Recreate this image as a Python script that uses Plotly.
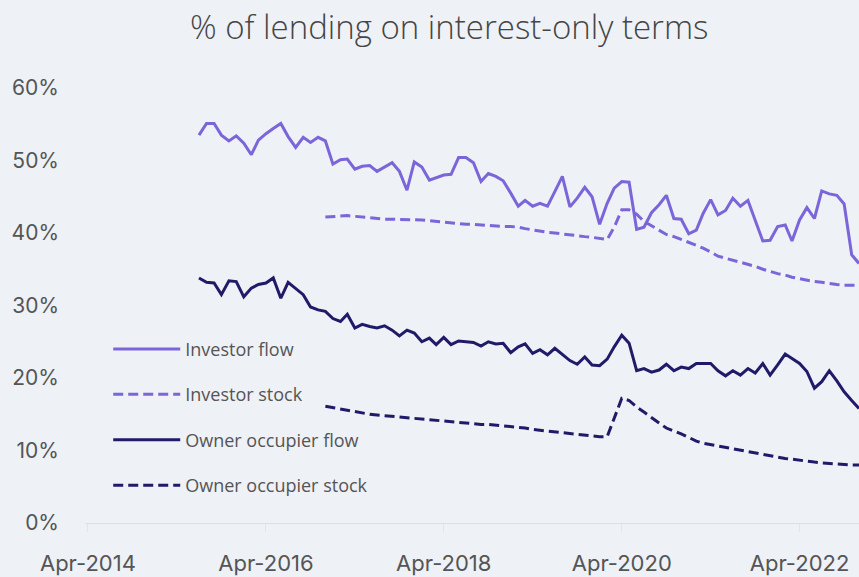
import pandas as pd
import plotly.graph_objects as go

# Monthly series, % of new / outstanding lending on interest-only terms
flow_start = "2015-07-01"
stock_start = "2016-12-01"

investor_flow = [
    53.5, 55.1, 55.1, 53.5, 52.7, 53.4, 52.4, 50.8, 52.8, 53.7, 54.4, 55.1,
    53.3, 51.8, 53.2, 52.5, 53.2, 52.7, 49.5, 50.1, 50.2, 48.8, 49.2, 49.3,
    48.5, 49.1, 49.7, 48.5, 45.9, 49.8, 49.1, 47.3, 47.6, 48.0, 48.1, 50.4,
    50.4, 49.7, 47.1, 48.2, 47.8, 47.2, 45.5, 43.7, 44.5, 43.7, 44.1, 43.7,
    45.7, 47.8, 43.6, 44.8, 46.3, 45.0, 41.2, 44.1, 46.2, 47.1, 47.0, 40.5,
    40.8, 42.8, 43.9, 45.2, 42.0, 41.9, 39.9, 40.4, 42.7, 44.6, 42.5, 43.1,
    44.8, 43.7, 44.5, 41.8, 38.9, 39.0, 40.9, 41.1, 38.9, 41.8, 43.5, 42.0,
    45.8, 45.4, 45.2, 44.0, 37.0, 35.8,
]

owner_occupier_flow = [
    33.8, 33.2, 33.1, 31.5, 33.4, 33.3, 31.2, 32.4, 32.9, 33.1, 33.8, 31.0,
    33.2, 32.3, 31.5, 29.8, 29.4, 29.2, 28.2, 27.8, 28.8, 26.9, 27.4, 27.1,
    26.9, 27.2, 26.6, 25.8, 26.6, 26.2, 25.0, 25.5, 24.6, 25.6, 24.6, 25.1,
    25.0, 24.9, 24.4, 25.0, 24.7, 24.8, 23.5, 24.3, 24.7, 23.4, 23.9, 23.2,
    24.1, 23.2, 22.4, 21.9, 22.9, 21.8, 21.7, 22.6, 24.3, 25.9, 24.8, 21.0,
    21.3, 20.8, 21.1, 21.9, 21.0, 21.5, 21.3, 22.0, 22.0, 22.0, 21.0, 20.3,
    21.0, 20.4, 21.3, 20.7, 22.0, 20.4, 21.8, 23.3, 22.7, 22.0, 20.9, 18.6,
    19.5, 21.0, 19.6, 18.1, 16.9, 15.8,
]

investor_stock = [
    42.2, 42.3, 42.4, 42.4, 42.3, 42.2, 42.1, 42.0, 41.9, 41.9, 41.9, 41.9,
    41.9, 41.8, 41.7, 41.6, 41.5, 41.4, 41.3, 41.2, 41.2, 41.1, 41.0, 41.0,
    40.9, 40.9, 40.8, 40.6, 40.4, 40.2, 40.1, 40.0, 39.9, 39.8, 39.7, 39.5,
    39.4, 39.2, 39.1, 40.8, 43.2, 43.2, 42.6, 41.6, 41.0, 40.3, 39.8, 39.5,
    39.1, 38.8, 38.3, 37.9, 37.4, 36.8, 36.5, 36.2, 35.9, 35.7, 35.4, 35.0,
    34.7, 34.4, 34.2, 33.9, 33.7, 33.5, 33.3, 33.2, 33.0, 32.9, 32.8, 32.8,
    32.8,
]

owner_occupier_stock = [
    16.1, 15.9, 15.8, 15.6, 15.4, 15.2, 15.0, 14.9, 14.8, 14.7, 14.6, 14.5,
    14.4, 14.3, 14.2, 14.1, 14.0, 14.0, 13.9, 13.8, 13.7, 13.6, 13.6, 13.5,
    13.4, 13.3, 13.2, 13.1, 12.9, 12.8, 12.7, 12.6, 12.5, 12.4, 12.2, 12.1,
    12.0, 11.9, 11.9, 14.5, 17.2, 16.9, 16.0, 15.3, 14.6, 13.8, 13.1, 12.7,
    12.3, 11.8, 11.3, 11.0, 10.8, 10.6, 10.4, 10.2, 10.0, 9.8, 9.6, 9.4,
    9.3, 9.1, 8.9, 8.8, 8.7, 8.6, 8.4, 8.3, 8.2, 8.1, 8.0, 8.0,
    8.0,
]

tick_dates = ["2014-04-01", "2016-04-01", "2018-04-01", "2020-04-01", "2022-04-01"]
tick_labels = ["Apr-2014", "Apr-2016", "Apr-2018", "Apr-2020", "Apr-2022"]
y_ticks = [0, 10, 20, 30, 40, 50, 60]

flow_dates = pd.date_range(flow_start, periods=len(investor_flow), freq="MS")
stock_dates = pd.date_range(stock_start, periods=len(investor_stock), freq="MS")

INVESTOR = "#7b66d9"
OWNER = "#201b68"
BG = "#eef1f5"
TEXT = "#555555"

series = [
    ("Investor flow", flow_dates, investor_flow, INVESTOR, "solid"),
    ("Investor stock", stock_dates, investor_stock, INVESTOR, "10px,5px"),
    ("Owner occupier flow", flow_dates, owner_occupier_flow, OWNER, "solid"),
    ("Owner occupier stock", stock_dates, owner_occupier_stock, OWNER, "10px,5px"),
]

fig = go.Figure()
for i, (name, x, y, color, dash) in enumerate(series):
    fig.add_trace(go.Scatter(
        x=x, y=y, name=name, mode="lines", legendgroup=f"g{i}",
        line=dict(color=color, width=3, dash=dash),
        hoverinfo="skip",
    ))

fig.update_layout(
    width=859, height=577,
    margin=dict(l=85, r=0, t=88, b=54),
    paper_bgcolor=BG, plot_bgcolor=BG,
    title=dict(
        text="% of lending on interest-only terms",
        x=0.523, xanchor="center", y=0.953, yanchor="middle",
        font=dict(family="Open Sans", size=33, color="#454545", weight=300),
    ),
    showlegend=True,
    legend=dict(
        x=0.03, y=0.442, xanchor="left", yanchor="top",
        bgcolor="rgba(0,0,0,0)",
        font=dict(family="Open Sans", size=18, color=TEXT),
        itemwidth=67, traceorder="grouped", tracegroupgap=19,
    ),
    xaxis=dict(
        range=["2014-03-20", "2022-12-01"],
        tickvals=tick_dates, ticktext=tick_labels,
        showgrid=False, zeroline=False,
        showline=True, linecolor="#dcdfe6", linewidth=1,
        ticks="outside", ticklen=8, tickcolor="#e2e5ea",
        ticklabelstandoff=13,
        tickfont=dict(family="Inter", size=22, color=TEXT),
    ),
    yaxis=dict(
        range=[0, 60], tickvals=y_ticks,
        ticktext=[f"{v}%" for v in y_ticks],
        showgrid=False, zeroline=False, showline=False,
        ticklabelstandoff=25,
        tickfont=dict(family="Inter", size=21, color=TEXT),
    ),
)

fig.write_html("out.html")
